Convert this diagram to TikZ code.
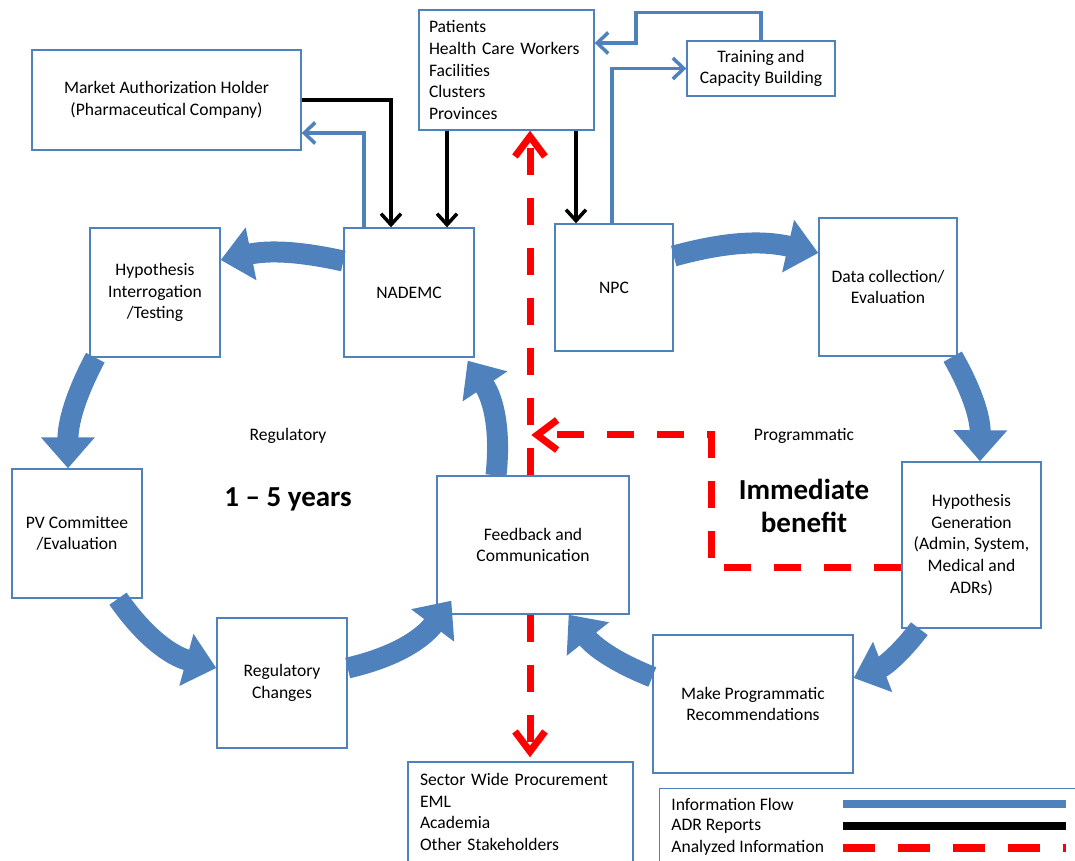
\documentclass[tikz,border=0pt]{standalone}
\usepackage{fontspec}
\setmainfont{Carlito}
\definecolor{infoblue}{RGB}{79,129,189}
\usetikzlibrary{arrows.meta, positioning, calc}

\begin{document}
\begin{tikzpicture}[x=0.02cm, y=-0.02cm, font=\fontsize{10}{12.3}\selectfont,
	stage/.style={draw=infoblue, fill=white, line width=0.8pt, align=center},
	flow/.style={infoblue, line width=0.42cm, -{Triangle[length=0.62cm, width=1.04cm]}},
	info/.style={infoblue, line width=2pt, -{Straight Barb[length=0.22cm, width=0.42cm]}},
	adr/.style={black, line width=2pt, -{Straight Barb[length=0.22cm, width=0.4cm]}},
	analyzed/.style={red, line width=0.14cm, dash pattern=on 0.54cm off 0.46cm, -{Straight Barb[length=0.4cm, width=0.6cm]}},
	big/.style={font=\fontsize{16.5}{18.7}\selectfont\bfseries, align=center}]
	\useasboundingbox (0,0) rectangle (1075,861);
	\node[stage, minimum width=5.38cm, minimum height=2cm] (mah) at (166.5,100) {Market Authorization Holder\\(Pharmaceutical Company)};
	\node[stage, align=left, text width=3.1cm, inner xsep=0.2cm, minimum height=2.4cm] (pat) at (506.5,70) {Patients\\Health Care Workers\\Facilities\\Clusters\\Provinces};
	\node[stage, minimum width=2.96cm, minimum height=1.1cm] (train) at (761,68.5) {Training and\\Capacity Building};
	\node[stage, minimum width=2.6cm, minimum height=2.58cm] (hypi) at (155,292.5) {Hypothesis\\Interrogation\\/Testing};
	\node[stage, minimum width=2.6cm, minimum height=2.58cm] (nademc) at (409,292.5) {NADEMC};
	\node[stage, minimum width=2.36cm, minimum height=2.54cm] (npc) at (614,287.5) {NPC};
	\node[stage, minimum width=2.76cm, minimum height=2.76cm] (data) at (888,287) {Data collection/\\Evaluation};
	\node[stage, minimum width=2.6cm, minimum height=2.58cm] (pv) at (77,533.5) {PV Committee\\/Evaluation};
	\node[stage, minimum width=2.6cm, minimum height=2.6cm] (reg) at (282,683) {Regulatory\\Changes};
	\node[stage, minimum width=3.84cm, minimum height=2.76cm] (fb) at (533,545) {Feedback and\\Communication};
	\node[stage, minimum width=2.78cm, minimum height=3.32cm] (hypg) at (971.5,545) {Hypothesis\\Generation\\(Admin, System,\\Medical and\\ADRs)};
	\node[stage, minimum width=4cm, minimum height=2.76cm] (mpr) at (753,704) {Make Programmatic\\Recommendations};
	\node[stage, align=left, text width=4.02cm, inner xsep=0.24cm, minimum height=2cm] (swp) at (520.5,812) {Sector Wide Procurement\\EML\\Academia\\Other Stakeholders};
	\node[stage, anchor=north west, minimum width=8.5cm, minimum height=1.7cm] (legend) at (659,788) {};
	\node (regtitle) at (288,436) {Regulatory};
	\node (progtitle) at (804,436) {Programmatic};
	\node[big] (years) at (288,499) {1 – 5 years};
	\node[big] (benefit) at (804,506) {Immediate\\benefit};
	\node[anchor=west, inner sep=0pt] (lgflow) at (671,804) {Information Flow};
	\node[anchor=west, inner sep=0pt] (lgadr) at (671,826) {ADR Reports};
	\node[anchor=west, inner sep=0pt] (lgana) at (671,848) {Analyzed Information};
	\draw[flow] ([yshift=0.63cm]nademc.west) to[bend right=12] ([yshift=0.65cm]hypi.east);
	\draw[flow] ([xshift=0.12cm]hypi.south west) to[bend right=14] ([xshift=-0.18cm]pv.north);
	\draw[flow] ([xshift=0.82cm]pv.south) to[bend right=20] ([yshift=0.3cm]reg.west);
	\draw[flow] ([yshift=0.3cm]reg.east) to[bend right=20] ([xshift=0.3cm, yshift=0.28cm]fb.south west);
	\draw[flow] ([xshift=-0.74cm]fb.north) to[bend right=20] ([xshift=-0.14cm, yshift=-0.06cm]nademc.south east);
	\draw[flow] ([yshift=0.63cm]npc.east) to[bend left=14] ([yshift=0.68cm]data.west);
	\draw[flow] ([xshift=-0.1cm]data.south east) to[bend left=15] ([xshift=0.17cm]hypg.north);
	\draw[flow] ([xshift=0.36cm]hypg.south west) to[bend left=16] ([yshift=0.52cm]mpr.east);
	\draw[flow] ([yshift=0.54cm]mpr.west) to[bend left=15] ([xshift=-1.22cm]fb.south east);
	\draw[adr] (mah.east) -| ([xshift=-0.36cm]nademc.north);
	\draw[adr] ([xshift=-1.19cm]pat.south) -- ([xshift=-1.19cm]pat.south |- nademc.north);
	\draw[adr] ([xshift=1.39cm]pat.south) -- ([xshift=1.39cm]pat.south |- npc.north);
	\draw[info] ([xshift=-0.9cm]nademc.north) |- ([yshift=-0.66cm]mah.east);
	\draw[info] ([xshift=-0.04cm]npc.north) |- (train.west);
	\draw[info] (train.north) -- ++(0,-28) -- ++(-125,0) |- ([yshift=0.54cm]pat.east);
	\draw[analyzed] ([xshift=-0.06cm]fb.north) -- ([xshift=-0.06cm]fb.north |- pat.south);
	\draw[analyzed] ([xshift=-0.06cm]fb.south) -- ([xshift=-0.06cm, yshift=0.08cm]fb.south |- swp.north);
	\draw[analyzed] ([yshift=-0.46cm]hypg.west) -| ++(-190,-133) -- ++(-180,0);
	\draw[infoblue, line width=0.16cm] (lgflow -| 843,0) -- (lgflow -| 1066,0);
	\draw[black, line width=0.16cm] (lgadr -| 843,0) -- (lgadr -| 1066,0);
	\draw[red, line width=0.16cm, dash pattern=on 0.64cm off 0.46cm] (lgana -| 843,0) -- (lgana -| 1066,0);
\end{tikzpicture}
\end{document}
